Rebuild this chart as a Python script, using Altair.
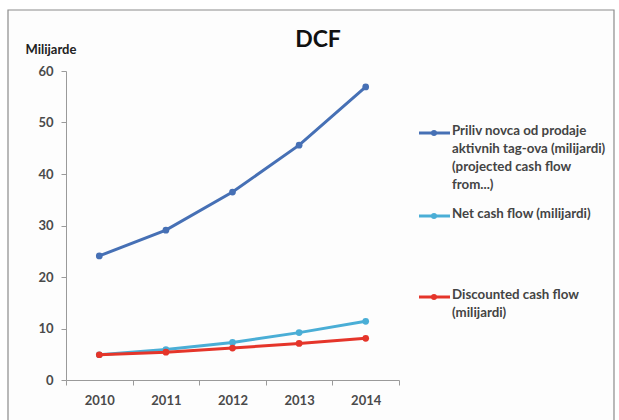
import altair as alt
import pandas as pd

# Years and the three cash-flow series (billions)
years = ["2010", "2011", "2012", "2013", "2014"]
projected = [24.1, 29.1, 36.5, 45.6, 56.9]
net_flow = [4.9, 5.9, 7.3, 9.2, 11.4]
discounted = [4.9, 5.4, 6.2, 7.1, 8.1]

series_names = [
    "Priliv novca od prodaje aktivnih tag-ova (milijardi) (projected cash flow from...)",
    "Net cash flow (milijardi)",
    "Discounted cash flow (milijardi)",
]
legend_labels = [
    "Priliv novca od prodaje\naktivnih tag-ova (milijardi)\n(projected cash flow\nfrom...)",
    "Net cash flow (milijardi)",
    " Discounted cash flow\n (milijardi)",
]
colors = ["#4670b5", "#4aaed6", "#e5352a"]

FONT = "Lato"
W, H = 333, 309
LEFT, TOP = 66, 71

rows = []
for name, vals in zip(series_names, [projected, net_flow, discounted]):
    for y, v in zip(years, vals):
        rows.append({"year": y, "series": name, "value": v})
df = pd.DataFrame(rows)

x_enc = alt.X(
    "year:O",
    scale=alt.Scale(type="band", paddingInner=0, paddingOuter=0),
    axis=alt.Axis(
        title=None, labelAngle=0, tickBand="extent", domainColor="#9a9a9a",
        tickColor="#9a9a9a", tickSize=5, labelFont=FONT, labelFontSize=13,
        labelFontWeight="bold", labelColor="#4a4a4a", labelPadding=9, zindex=1,
    ),
)
y_enc = alt.Y(
    "value:Q",
    scale=alt.Scale(domain=[0, 60], nice=False),
    axis=alt.Axis(
        values=[0, 10, 20, 30, 40, 50, 60], grid=False, domainColor="#9a9a9a",
        tickColor="#9a9a9a", tickSize=5, labelFont=FONT, labelFontSize=13,
        labelFontWeight="bold", labelColor="#4a4a4a", labelPadding=8, zindex=1,
        title="Milijarde", titleAngle=0, titleAlign="left", titleX=-41,
        titleY=-22, titleBaseline="middle", titleFont=FONT, titleFontSize=13,
        titleFontWeight="bold", titleColor="#222",
    ),
)

one = pd.DataFrame({"k": [0]})

# Outer frame around the whole chart
frame = alt.Chart(one).mark_rect(
    fill="#fdfdfd", stroke="#8c8c8c", strokeWidth=1.2
).encode(
    x=alt.value(8 - LEFT), x2=alt.value(614 - LEFT),
    y=alt.value(10 - TOP), y2=alt.value(430 - TOP),
)

# Chart heading
heading = alt.Chart(one).mark_text(
    text="DCF", font=FONT, fontSize=23, fontWeight="bold", color="#111",
    align="center", baseline="middle",
).encode(x=alt.value(318 - LEFT), y=alt.value(40 - TOP))

layers = [frame, heading]
for name, col in zip(series_names, colors):
    base = alt.Chart(df).transform_filter(alt.datum.series == name).encode(
        x=x_enc, y=y_enc
    )
    layers.append(base.mark_line(color=col, strokeWidth=3))
    layers.append(base.mark_point(color=col, filled=True, size=45, opacity=1))

# Legend drawn beside the plot area
legend_y = [133, 216, 297]
for name, label, ly, col in zip(series_names, legend_labels, legend_y, colors):
    entry = alt.Chart(pd.DataFrame({"series": [name], "label": [label]}))
    yv = alt.value(ly - TOP)
    layers.append(entry.mark_rule(strokeWidth=3, color=col).encode(
        x=alt.value(419 - LEFT), x2=alt.value(450 - LEFT), y=yv))
    layers.append(entry.mark_point(filled=True, size=35, opacity=1, color=col).encode(
        x=alt.value(434 - LEFT), y=yv))
    layers.append(entry.mark_text(
        align="left", baseline="top", lineBreak="\n", lineHeight=18,
        font=FONT, fontSize=13.3, fontWeight="bold", color="#444", dy=-9,
    ).encode(x=alt.value(452 - LEFT), y=yv, text="label:N"))

chart = alt.layer(*layers).properties(
    width=W, height=H,
    autosize=alt.AutoSizeParams(type="none"),
    padding={"left": LEFT, "top": TOP, "right": 619 - LEFT - W,
             "bottom": 420 - TOP - H},
).configure_view(stroke=None).configure(background="white")

chart.save("out.html", embed_options={"renderer": "svg", "actions": False})
